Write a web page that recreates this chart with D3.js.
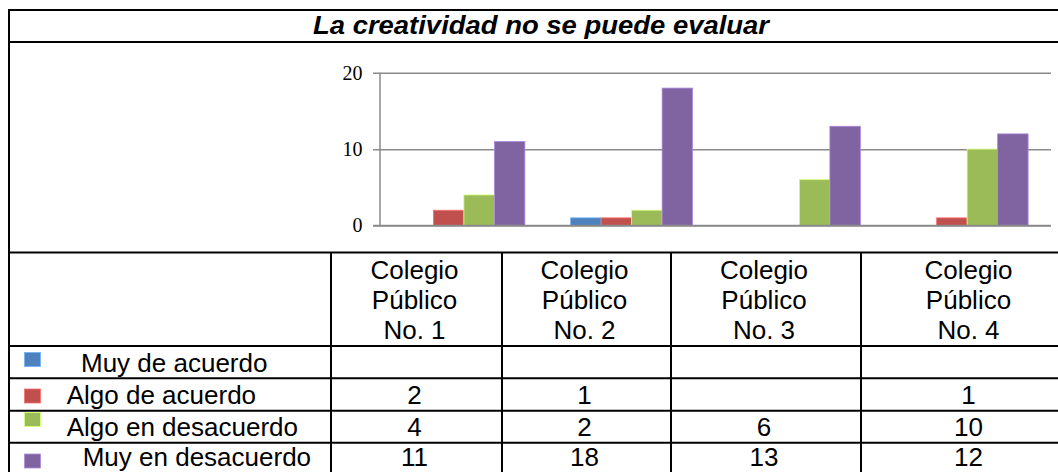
<!DOCTYPE html>
<html><head><meta charset="utf-8">
<script src="https://cdn.jsdelivr.net/npm/d3@7"></script>
<style>body{margin:0;background:#fff}svg{display:block}</style>
</head><body><svg id="c" width="1058" height="472"></svg>
<script>
// ---- data ----
const chartTitle = "La creatividad no se puede evaluar";
const categories = ["Colegio Público No. 1", "Colegio Público No. 2", "Colegio Público No. 3", "Colegio Público No. 4"];
const categoryLines = [["Colegio", "Público", "No. 1"], ["Colegio", "Público", "No. 2"], ["Colegio", "Público", "No. 3"], ["Colegio", "Público", "No. 4"]];
const seriesNames = ["Muy de acuerdo", "Algo de acuerdo", "Algo en desacuerdo", "Muy en desacuerdo"];
// bar values (as drawn in the chart)
const muyDeAcuerdo = [null, 1, null, null];
const algoDeAcuerdo = [2, 1, null, 1];
const algoEnDesacuerdo = [4, 2, 6, 10];
const muyEnDesacuerdo = [11, 18, 13, 12];
// values printed in the data table (the "Muy de acuerdo" row is blank there)
const tableMuyDeAcuerdo = [null, null, null, null];
const yTicks = [0, 10, 20];
const seriesColors = ["#4F81BD", "#C0504D", "#9BBB59", "#8064A2"];

const seriesValues = [muyDeAcuerdo, algoDeAcuerdo, algoEnDesacuerdo, muyEnDesacuerdo];
const tableValues = [tableMuyDeAcuerdo, algoDeAcuerdo, algoEnDesacuerdo, muyEnDesacuerdo];

// ---- layout ----
const svg = d3.select("#c");
const plotL = 380, plotR = 1051, gridL = 373;
const y = d3.scaleLinear().domain([0, 20]).range([225.5, 72.8]);
const x0 = d3.scaleBand().domain(categories).range([plotL, plotR]).paddingInner(0.2727).paddingOuter(0.13635);
const x1 = d3.scaleBand().domain(seriesNames).range([0, x0.bandwidth()]);

// gridlines + labels
const axis = d3.axisLeft(y).tickValues(yTicks).tickSizeInner(-(plotR - gridL)).tickSizeOuter(0).tickPadding(10.5).tickFormat(d3.format("d"));
const gAxis = svg.append("g").attr("transform", `translate(${gridL},0)`).call(axis);
gAxis.select(".domain").remove();
gAxis.selectAll(".tick line").attr("stroke", "#8a8a8a").attr("stroke-width", 1.5);
gAxis.selectAll(".tick text").attr("font-family", "'Liberation Serif', 'Times New Roman', serif").attr("font-size", 20).attr("fill", "#000");

// bars
const barData = [];
categories.forEach((c, ci) => {
  seriesNames.forEach((s, si) => {
    const v = seriesValues[si][ci];
    if (v != null) barData.push({ c, s, v, si });
  });
});
svg.append("g").selectAll("rect").data(barData).join("rect")
  .attr("x", d => x0(d.c) + x1(d.s))
  .attr("y", d => y(d.v))
  .attr("width", x1.bandwidth())
  .attr("height", d => y(0) - y(d.v))
  .attr("fill", d => seriesColors[d.si])
  .attr("stroke", d => d3.color(seriesColors[d.si]).brighter(0.9))
  .attr("stroke-width", 0.8);

// vertical axis line and baseline on top
svg.append("line").attr("x1", plotL).attr("x2", plotL).attr("y1", y(20)).attr("y2", y(0)).attr("stroke", "#8a8a8a").attr("stroke-width", 1.5);
svg.append("line").attr("x1", gridL).attr("x2", plotR).attr("y1", y(0)).attr("y2", y(0)).attr("stroke", "#8a8a8a").attr("stroke-width", 1.5);

// ---- table ----
const tableL = 9, tableR = 1080;
const hLines = [10, 42, 252.5, 346, 378.3, 410.7, 442.7, 475];
const colEdges = [331, 502, 671, 861, 1080];
const lineG = svg.append("g").attr("stroke", "#000").attr("stroke-width", 2);
hLines.forEach(yy => lineG.append("line").attr("x1", tableL - 1).attr("x2", tableR).attr("y1", yy).attr("y2", yy));
lineG.append("line").attr("x1", tableL).attr("x2", tableL).attr("y1", 9).attr("y2", 480);
colEdges.slice(0, 4).forEach(xx => lineG.append("line").attr("x1", xx).attr("x2", xx).attr("y1", 252.5).attr("y2", 480));

// title
svg.append("text").attr("x", 541).attr("y", 33.5).attr("text-anchor", "middle")
  .attr("font-family", "'Liberation Sans', Arial, sans-serif").attr("font-size", 26)
  .attr("font-weight", "bold").attr("font-style", "italic").attr("fill", "#000")
  .attr("textLength", 456).attr("lengthAdjust", "spacingAndGlyphs")
  .text(chartTitle);

const sans = "'Liberation Sans', Arial, sans-serif";
const colCenter = i => (colEdges[i] + colEdges[i + 1]) / 2 - 2;

// header
const headerBase = [278.5, 308.8, 339];
categoryLines.forEach((lines, ci) => {
  lines.forEach((t, li) => {
    svg.append("text").attr("x", colCenter(ci)).attr("y", headerBase[li]).attr("text-anchor", "middle")
      .attr("font-family", sans).attr("font-size", 26).attr("fill", "#000").text(t);
  });
});

// rows
const rowTops = [346, 378.3, 410.7, 442.7];
const baseOff = [26, 26, 25.5, 23];
const markerOff = [6.5, 10.7, 1.8, 11.3];
const labelX = [81, 66.7, 66.7, 82.7];
seriesNames.forEach((s, si) => {
  const top = rowTops[si];
  svg.append("rect").attr("x", 24.5).attr("y", top + markerOff[si]).attr("width", 16).attr("height", 14)
    .attr("fill", seriesColors[si]).attr("stroke", d3.color(seriesColors[si]).brighter(0.9)).attr("stroke-width", 0.8);
  svg.append("text").attr("x", labelX[si]).attr("y", top + baseOff[si]).attr("font-family", sans).attr("font-size", 26).attr("fill", "#000").text(s);
  tableValues[si].forEach((v, ci) => {
    if (v == null) return;
    svg.append("text").attr("x", colCenter(ci)).attr("y", top + baseOff[si]).attr("text-anchor", "middle")
      .attr("font-family", sans).attr("font-size", 26).attr("fill", "#000").text(v);
  });
});
</script>
</body></html>
